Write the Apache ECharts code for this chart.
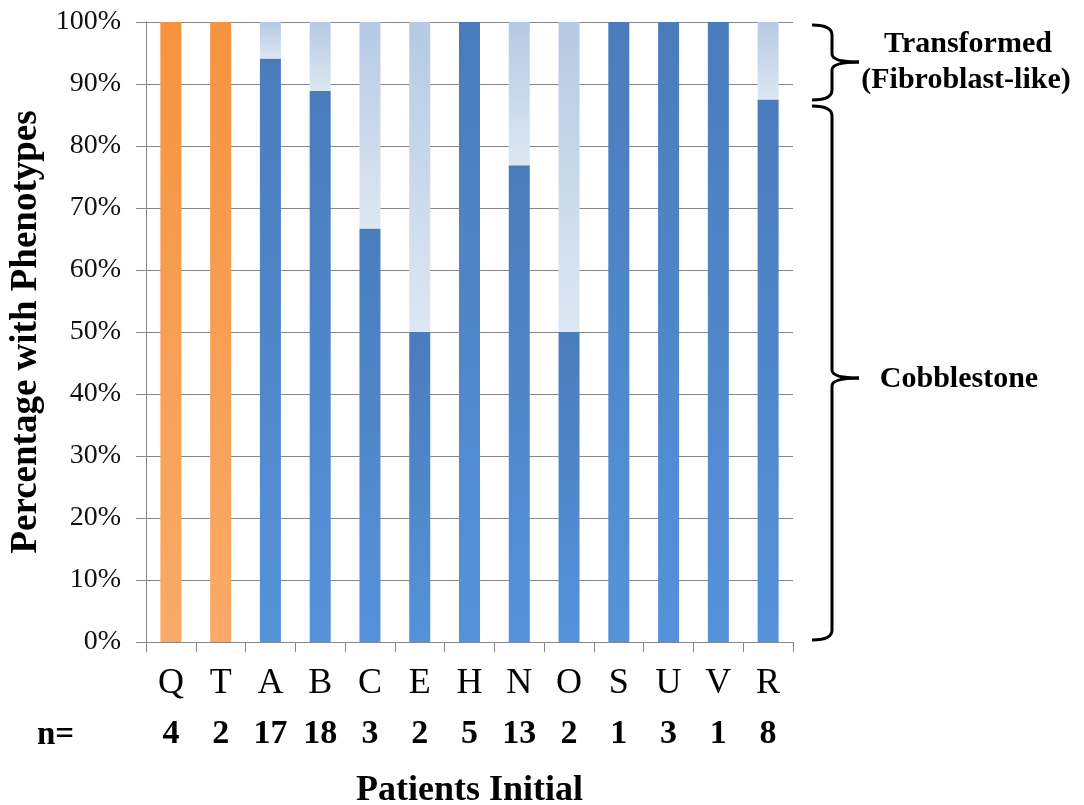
<!DOCTYPE html>
<html>
<head>
<meta charset="utf-8">
<script src="https://cdn.jsdelivr.net/npm/echarts@6/dist/echarts.min.js"></script>
<style>
  html, body { margin: 0; padding: 0; background: #fff; }
  #chart { width: 1084px; height: 805px; }
</style>
</head>
<body>
<div id="chart"></div>
<script>
// Patients and number of clones per patient
const patients = ['Q', 'T', 'A', 'B', 'C', 'E', 'H', 'N', 'O', 'S', 'U', 'V', 'R'];
const clonesPerPatient = [4, 2, 17, 18, 3, 2, 5, 13, 2, 1, 3, 1, 8];

// Percentage of clones with each phenotype
const orangeGroup = [100, 100, null, null, null, null, null, null, null, null, null, null, null];
const cobblestone = [null, null, 94.1, 88.9, 66.7, 50, 100, 76.9, 50, 100, 100, 100, 87.5];
const transformed = [null, null, 5.9, 11.1, 33.3, 50, 0, 23.1, 50, 0, 0, 0, 12.5];

// Y axis ticks (percent)
const yTicks = { min: 0, max: 100, step: 10 };

const serif = '"Liberation Serif", "Times New Roman", serif';

function vGrad(top, bottom) {
  return new echarts.graphic.LinearGradient(0, 0, 0, 1, [
    { offset: 0, color: top },
    { offset: 1, color: bottom }
  ]);
}

// Curly brace built from quadratic curves and straight segments
function brace(y0, y1, ym) {
  const L = 812, S = 832, T = 859, r = 10, rt = 8;
  const st = { stroke: '#000', lineWidth: 3, fill: null };
  return [
    { type: 'bezierCurve', shape: { x1: L, y1: y0, x2: S, y2: y0 + r, cpx1: S, cpy1: y0 }, style: st },
    { type: 'line', shape: { x1: S, y1: y0 + r, x2: S, y2: ym - rt }, style: st },
    { type: 'bezierCurve', shape: { x1: S, y1: ym - rt, x2: T, y2: ym, cpx1: S, cpy1: ym }, style: st },
    { type: 'bezierCurve', shape: { x1: T, y1: ym, x2: S, y2: ym + rt, cpx1: S, cpy1: ym }, style: st },
    { type: 'line', shape: { x1: S, y1: ym + rt, x2: S, y2: y1 - r }, style: st },
    { type: 'bezierCurve', shape: { x1: S, y1: y1 - r, x2: L, y2: y1, cpx1: S, cpy1: y1 }, style: st }
  ];
}

const annoText = (text, x, y) => ({
  type: 'text',
  x: x, y: y,
  style: {
    text: text,
    font: 'bold 30px ' + serif,
    fill: '#000',
    align: 'center',
    verticalAlign: 'middle'
  }
});

const chart = echarts.init(document.getElementById('chart'));

chart.setOption({
  backgroundColor: '#ffffff',
  animation: false,
  grid: { left: 146, top: 22, width: 647, height: 620, containLabel: false, outerBoundsMode: 'none' },
  xAxis: {
    type: 'category',
    data: patients,
    name: 'Patients Initial',
    nameLocation: 'middle',
    nameGap: 131,
    nameTextStyle: { fontFamily: serif, fontWeight: 'bold', fontSize: 36, color: '#000' },
    axisLine: { show: true, lineStyle: { color: '#878787', width: 1 } },
    axisTick: { show: true, length: 10, lineStyle: { color: '#878787' } },
    axisLabel: {
      interval: 0,
      margin: 20,
      formatter: (v, i) => '{c|' + v + '}\n{n|' + clonesPerPatient[i] + '}',
      rich: {
        c: { fontFamily: serif, fontSize: 36, color: '#000', lineHeight: 44 },
        n: { fontFamily: serif, fontSize: 34, fontWeight: 'bold', color: '#000', lineHeight: 56 }
      }
    }
  },
  yAxis: {
    type: 'value',
    min: yTicks.min,
    max: yTicks.max,
    interval: yTicks.step,
    name: 'Percentage with Phenotypes',
    nameLocation: 'middle',
    nameRotate: 90,
    nameGap: 98,
    nameTextStyle: { fontFamily: serif, fontWeight: 'bold', fontSize: 37, color: '#000' },
    axisLine: { show: true, lineStyle: { color: '#878787', width: 1 } },
    axisTick: { show: true, length: 10, lineStyle: { color: '#878787' } },
    axisLabel: {
      margin: 25,
      formatter: '{value}%',
      fontFamily: serif,
      fontSize: 28,
      color: '#111'
    },
    splitLine: { show: true, lineStyle: { color: '#878787', width: 1 } }
  },
  series: [
    {
      name: 'Other',
      type: 'bar',
      stack: 'phenotype',
      barWidth: 21,
      data: orangeGroup,
      itemStyle: { color: vGrad('#F6933F', '#FAAA68') }
    },
    {
      name: 'Cobblestone',
      type: 'bar',
      stack: 'phenotype',
      barWidth: 21,
      data: cobblestone,
      itemStyle: { color: vGrad('#4A7CBC', '#5592DA') }
    },
    {
      name: 'Transformed',
      type: 'bar',
      stack: 'phenotype',
      barWidth: 21,
      data: transformed,
      itemStyle: { color: vGrad('#B5CAE3', '#DCE7F3') }
    }
  ],
  graphic: [
    ...brace(25, 100, 62),
    ...brace(106, 640, 378),
    annoText('Transformed', 968, 44),
    annoText('(Fibroblast-like)', 966, 80),
    annoText('Cobblestone', 959, 379),
    {
      type: 'text',
      x: 37, y: 735,
      style: {
        text: 'n=',
        font: 'bold 33px ' + serif,
        fill: '#000',
        align: 'left',
        verticalAlign: 'middle'
      }
    }
  ]
});
</script>
</body>
</html>
